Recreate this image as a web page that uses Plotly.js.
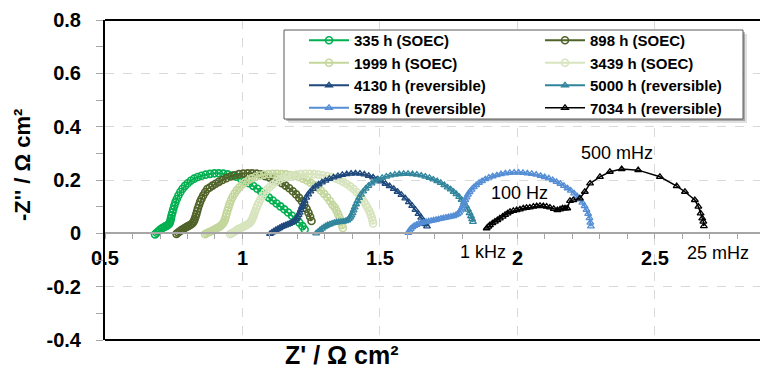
<!DOCTYPE html>
<html>
<head>
<meta charset="utf-8">
<script src="https://cdn.plot.ly/plotly-3.0.1.min.js"></script>
<style>
  html, body { margin: 0; padding: 0; background: #ffffff; }
  #chart { width: 760px; height: 374px; }
</style>
</head>
<body>
<div id="chart"></div>
<script>
// Impedance spectra (Nyquist), Z' vs -Z'' in ohm cm2, at different operating times
const seriesNames = ['335 h (SOEC)', '898 h (SOEC)', '1999 h (SOEC)', '3439 h (SOEC)',
  '4130 h (reversible)', '5000 h (reversible)', '5789 h (reversible)', '7034 h (reversible)'];
const seriesColors = ['#00B050', '#4F6228', '#C3D69B', '#D7E4BD', '#1F497D', '#31859C', '#558ED5', '#000000'];

const x335 = [0.682,0.688,0.694,0.700,0.706,0.712,0.718,0.724,0.729,0.733,0.736,0.738,0.740,0.742,0.745,0.748,0.752,0.756,0.761,0.767,0.774,0.782,0.791,0.801,0.812,0.824,0.837,0.851,0.866,0.882,0.898,0.914,0.930,0.946,0.962,0.978,0.994,1.009,1.024,1.039,1.054,1.068,1.082,1.096,1.110,1.124,1.138,1.152,1.166,1.180,1.194,1.207,1.218,1.226];
const y335 = [-0.004,0.002,0.008,0.013,0.018,0.022,0.025,0.028,0.031,0.035,0.041,0.048,0.057,0.067,0.078,0.090,0.103,0.116,0.129,0.142,0.155,0.167,0.178,0.188,0.197,0.205,0.211,0.216,0.220,0.223,0.225,0.225,0.224,0.221,0.217,0.212,0.205,0.197,0.188,0.178,0.167,0.156,0.145,0.134,0.123,0.112,0.101,0.090,0.078,0.066,0.053,0.040,0.027,0.014];

const x898 = [0.760,0.766,0.772,0.778,0.784,0.790,0.796,0.802,0.808,0.814,0.819,0.823,0.826,0.829,0.832,0.835,0.838,0.842,0.846,0.851,0.857,0.864,0.872,0.881,0.891,0.902,0.914,0.927,0.941,0.956,0.971,0.987,1.003,1.019,1.035,1.051,1.067,1.083,1.099,1.114,1.129,1.143,1.157,1.170,1.183,1.195,1.206,1.216,1.225,1.233,1.240,1.246,1.251];
const y898 = [-0.002,0.003,0.008,0.012,0.016,0.020,0.024,0.027,0.030,0.034,0.039,0.045,0.053,0.062,0.072,0.083,0.094,0.106,0.118,0.130,0.142,0.154,0.166,0.172,0.179,0.186,0.193,0.200,0.207,0.213,0.218,0.222,0.224,0.225,0.225,0.224,0.221,0.214,0.209,0.203,0.196,0.188,0.179,0.169,0.158,0.146,0.133,0.120,0.106,0.092,0.077,0.062,0.046];

const x1999 = [0.864,0.870,0.876,0.882,0.888,0.894,0.900,0.906,0.912,0.918,0.924,0.929,0.933,0.936,0.939,0.942,0.945,0.949,0.953,0.958,0.964,0.971,0.979,0.988,0.998,1.009,1.021,1.034,1.048,1.063,1.078,1.094,1.110,1.126,1.142,1.158,1.174,1.190,1.205,1.220,1.234,1.248,1.261,1.274,1.286,1.297,1.308,1.318,1.327,1.335,1.342,1.348,1.353,1.358,1.362,1.365];
const y1999 = [-0.003,0.000,0.003,0.006,0.009,0.012,0.015,0.019,0.022,0.026,0.031,0.037,0.044,0.052,0.062,0.073,0.085,0.097,0.110,0.123,0.136,0.149,0.161,0.172,0.182,0.191,0.199,0.206,0.212,0.217,0.220,0.222,0.223,0.223,0.222,0.221,0.219,0.216,0.211,0.205,0.198,0.190,0.181,0.171,0.160,0.148,0.135,0.121,0.107,0.098,0.085,0.072,0.058,0.044,0.031,0.020];

const x3439 = [0.955,0.961,0.967,0.973,0.979,0.985,0.991,0.997,1.003,1.009,1.015,1.021,1.026,1.030,1.034,1.037,1.040,1.043,1.046,1.050,1.054,1.059,1.065,1.072,1.080,1.089,1.099,1.110,1.122,1.135,1.149,1.164,1.180,1.196,1.212,1.228,1.244,1.260,1.276,1.292,1.308,1.323,1.338,1.352,1.366,1.379,1.392,1.404,1.415,1.425,1.434,1.442,1.449,1.455,1.461,1.466,1.470,1.473,1.475];
const y3439 = [-0.003,0.000,0.004,0.008,0.012,0.016,0.019,0.022,0.025,0.028,0.031,0.035,0.039,0.044,0.050,0.057,0.065,0.074,0.083,0.093,0.104,0.115,0.127,0.139,0.151,0.163,0.174,0.184,0.193,0.201,0.208,0.213,0.217,0.220,0.222,0.223,0.223,0.222,0.220,0.218,0.215,0.211,0.206,0.200,0.193,0.185,0.176,0.166,0.155,0.143,0.131,0.118,0.107,0.096,0.084,0.072,0.060,0.048,0.037];

const x4130 = [1.100,1.107,1.114,1.121,1.128,1.135,1.142,1.149,1.156,1.163,1.170,1.177,1.184,1.190,1.195,1.200,1.204,1.208,1.212,1.216,1.221,1.226,1.232,1.239,1.247,1.256,1.266,1.277,1.289,1.302,1.316,1.331,1.347,1.363,1.379,1.395,1.411,1.427,1.443,1.459,1.475,1.490,1.505,1.520,1.535,1.550,1.564,1.578,1.592,1.605,1.617,1.629,1.640,1.650,1.659,1.666,1.671];
const y4130 = [-0.002,0.003,0.008,0.012,0.016,0.020,0.024,0.027,0.030,0.033,0.036,0.039,0.043,0.048,0.054,0.061,0.069,0.078,0.088,0.099,0.110,0.122,0.134,0.146,0.157,0.167,0.176,0.184,0.191,0.198,0.204,0.210,0.215,0.219,0.222,0.224,0.225,0.224,0.221,0.216,0.210,0.203,0.195,0.186,0.177,0.167,0.156,0.144,0.131,0.117,0.103,0.088,0.073,0.059,0.046,0.035,0.026];

const x5000 = [1.268,1.275,1.282,1.289,1.296,1.303,1.310,1.318,1.326,1.334,1.342,1.350,1.358,1.366,1.374,1.381,1.387,1.392,1.396,1.400,1.404,1.408,1.413,1.418,1.424,1.431,1.439,1.448,1.458,1.469,1.481,1.494,1.508,1.523,1.538,1.554,1.570,1.586,1.602,1.618,1.634,1.650,1.665,1.680,1.694,1.708,1.721,1.734,1.746,1.757,1.768,1.778,1.788,1.797,1.805,1.813,1.820,1.826,1.831,1.835,1.838];
const y5000 = [0.000,0.006,0.012,0.018,0.023,0.027,0.031,0.034,0.037,0.039,0.041,0.042,0.043,0.044,0.046,0.049,0.054,0.060,0.067,0.076,0.086,0.097,0.109,0.121,0.133,0.145,0.157,0.168,0.178,0.187,0.195,0.202,0.208,0.213,0.217,0.220,0.222,0.223,0.223,0.222,0.220,0.217,0.213,0.208,0.202,0.196,0.189,0.181,0.172,0.165,0.156,0.147,0.137,0.126,0.115,0.102,0.089,0.076,0.064,0.053,0.043];

const x5789 = [1.603,1.607,1.612,1.618,1.625,1.633,1.641,1.650,1.659,1.668,1.677,1.686,1.695,1.704,1.713,1.722,1.731,1.740,1.749,1.758,1.767,1.775,1.782,1.788,1.793,1.798,1.802,1.806,1.810,1.815,1.820,1.826,1.833,1.841,1.850,1.860,1.871,1.883,1.896,1.910,1.925,1.940,1.956,1.972,1.988,2.004,2.020,2.036,2.052,2.068,2.084,2.099,2.114,2.128,2.142,2.156,2.169,2.182,2.194,2.206,2.217,2.227,2.236,2.244,2.251,2.257,2.262,2.265,2.267];
const y5789 = [0.002,0.010,0.017,0.023,0.028,0.032,0.036,0.039,0.041,0.043,0.045,0.047,0.049,0.051,0.053,0.055,0.057,0.059,0.061,0.063,0.065,0.068,0.072,0.078,0.086,0.095,0.105,0.115,0.125,0.135,0.145,0.155,0.164,0.173,0.181,0.189,0.196,0.203,0.209,0.214,0.218,0.222,0.225,0.227,0.228,0.228,0.227,0.225,0.223,0.220,0.216,0.211,0.206,0.200,0.193,0.186,0.178,0.169,0.160,0.150,0.139,0.127,0.115,0.102,0.088,0.073,0.057,0.040,0.026];

const x7034 = [1.888,1.894,1.900,1.909,1.918,1.927,1.936,1.946,1.955,1.964,1.973,1.985,1.997,2.009,2.021,2.033,2.045,2.058,2.070,2.082,2.094,2.106,2.118,2.132,2.145,2.155,2.164,2.173,2.181,2.191,2.203,2.227,2.245,2.264,2.300,2.336,2.379,2.439,2.518,2.579,2.609,2.645,2.658,2.666,2.672,2.676,2.678];
const y7034 = [0.019,0.025,0.031,0.038,0.044,0.050,0.056,0.063,0.069,0.075,0.081,0.084,0.087,0.090,0.094,0.096,0.097,0.100,0.102,0.103,0.102,0.100,0.097,0.092,0.087,0.090,0.094,0.094,0.094,0.122,0.125,0.131,0.156,0.187,0.212,0.231,0.241,0.237,0.212,0.177,0.156,0.125,0.100,0.075,0.056,0.044,0.027];

const seriesX = [x335, x898, x1999, x3439, x4130, x5000, x5789, x7034];
const seriesY = [y335, y898, y1999, y3439, y4130, y5000, y5789, y7034];

// Axis ticks
const xTickVals = [0.5, 1, 1.5, 2, 2.5];
const xTickText = ['0.5', '1', '1.5', '2', '2.5'];
const yTickVals = [-0.4, -0.2, 0, 0.2, 0.4, 0.6, 0.8];
const yTickText = ['-0.4', '-0.2', '0', '0.2', '0.4', '0.6', '0.8'];

// Frequency markers written next to the spectra
const freqLabels = ['500 mHz', '100 Hz', '1 kHz', '25 mHz'];
const freqX = [2.362, 2.009, 1.875, 2.729];
const freqY = [0.301, 0.151, -0.070, -0.074];

const FONT = 'Arial, "Liberation Sans", Helvetica, sans-serif';

// two-column legend: even entries on the left, odd entries on the right
const traces = seriesNames.map((name, i) => {
  const soec = i < 4;
  const black = i === 7;
  return {
    type: 'scatter',
    mode: 'lines+markers',
    name: name,
    legend: i % 2 === 0 ? 'legend' : 'legend2',
    x: seriesX[i],
    y: seriesY[i],
    line: { color: seriesColors[i], width: black ? 1.5 : 2 },
    marker: {
      symbol: soec ? 'circle-open' : 'triangle-up-open',
      size: soec ? 7 : 6,
      color: seriesColors[i],
      line: { color: seriesColors[i], width: soec ? 1.6 : 1.3 }
    }
  };
});

// plot area: 655 x 320 px
const PW = 655, PH = 320;
const px = v => v / PW;
const py = v => v / PH;

// legend frame (box with drop shadow), pixel coords relative to the plot area
const boxL = 179, boxR = 638, boxT = 10, boxB = 99;

const shapes = [
  { type: 'rect', xref: 'paper', yref: 'paper', layer: 'above',
    x0: px(boxL + 4), x1: px(boxR + 4), y0: 1 - py(boxB + 4), y1: 1 - py(boxT + 4),
    fillcolor: 'rgba(0,0,0,0.12)', line: { width: 0 } },
  { type: 'rect', xref: 'paper', yref: 'paper', layer: 'above',
    x0: px(boxL + 2), x1: px(boxR + 2), y0: 1 - py(boxB + 2), y1: 1 - py(boxT + 2),
    fillcolor: 'rgba(0,0,0,0.25)', line: { width: 0 } },
  { type: 'rect', xref: 'paper', yref: 'paper', layer: 'above',
    x0: px(boxL), x1: px(boxR), y0: 1 - py(boxB), y1: 1 - py(boxT),
    fillcolor: '#ffffff', line: { color: '#595959', width: 1 } },
  // top and bottom frame lines
  { type: 'line', xref: 'paper', yref: 'paper', x0: 0, x1: 1, y0: 1, y1: 1,
    line: { color: '#000000', width: 2 } },
  { type: 'line', xref: 'paper', yref: 'paper', x0: 0, x1: 1, y0: 0, y1: 0,
    line: { color: '#000000', width: 2 } }
];

const annotations = freqLabels.map((t, i) => ({
  text: t, x: freqX[i], y: freqY[i], xref: 'x', yref: 'y',
  showarrow: false, xanchor: 'center', yanchor: 'middle',
  font: { family: FONT, size: 18, color: '#000000' }
}));

annotations.push({
  text: "Z' / Ω cm²", xref: 'paper', yref: 'paper',
  x: px(342 - 105), y: -py(355 - 340), showarrow: false,
  xanchor: 'center', yanchor: 'middle',
  font: { family: FONT, size: 25, color: '#000000', weight: 'bold' }
});
annotations.push({
  text: "-Z'' / Ω cm²", xref: 'paper', yref: 'paper',
  x: -px(105 - 22), y: 1 - py(165 - 20), showarrow: false, textangle: -90,
  xanchor: 'center', yanchor: 'middle',
  font: { family: FONT, size: 22, color: '#000000', weight: 'bold' }
});

const legendCommon = {
  orientation: 'v', xanchor: 'left', yanchor: 'top',
  bgcolor: 'rgba(0,0,0,0)', borderwidth: 0,
  itemwidth: 40, traceorder: 'normal', tracegroupgap: 0,
  font: { family: FONT, size: 15, color: '#000000', weight: 'bold' }
};

const layout = {
  width: 760, height: 374,
  margin: { l: 105, r: 0, t: 20, b: 34, pad: 0 },
  paper_bgcolor: '#ffffff',
  plot_bgcolor: '#ffffff',
  showlegend: true,
  legend: Object.assign({}, legendCommon, { x: px(304 - 105), y: 1 - py(24 - 20) }),
  legend2: Object.assign({}, legendCommon, { x: px(540 - 105), y: 1 - py(24 - 20) }),
  xaxis: {
    range: [0.5, 2.882],
    anchor: 'free', position: 1 / 3,
    tickmode: 'array', tickvals: xTickVals, ticktext: xTickText,
    ticks: 'outside', ticklen: 5, tickwidth: 1, tickcolor: '#a6a6a6',
    minor: { tickmode: 'linear', tick0: 0.5, dtick: 0.1, ticks: 'outside', ticklen: 5, tickwidth: 1, tickcolor: '#a6a6a6', showgrid: false },
    showline: true, linecolor: '#a6a6a6', linewidth: 2,
    showgrid: true, gridcolor: '#d9d9d9', griddash: 'dash', gridwidth: 1,
    zeroline: false,
    ticklabelstandoff: 2,
    tickfont: { family: FONT, size: 20, color: '#000000', weight: 'bold' },
    fixedrange: true
  },
  yaxis: {
    range: [-0.4, 0.8],
    tickmode: 'array', tickvals: yTickVals, ticktext: yTickText,
    ticks: 'outside', ticklen: 7, tickwidth: 1, tickcolor: '#a6a6a6',
    minor: { tickmode: 'linear', tick0: 0, dtick: 0.1, ticks: 'outside', ticklen: 7, tickwidth: 1, tickcolor: '#a6a6a6', showgrid: false },
    showline: true, linecolor: '#000000', linewidth: 2,
    showgrid: true, gridcolor: '#d9d9d9', griddash: 'dash', gridwidth: 1,
    zeroline: false,
    ticklabelstandoff: 11,
    tickfont: { family: FONT, size: 20, color: '#000000', weight: 'bold' },
    fixedrange: true
  },
  shapes: shapes,
  annotations: annotations
};

Plotly.newPlot('chart', traces, layout, { displayModeBar: false, staticPlot: true });
</script>
</body>
</html>
